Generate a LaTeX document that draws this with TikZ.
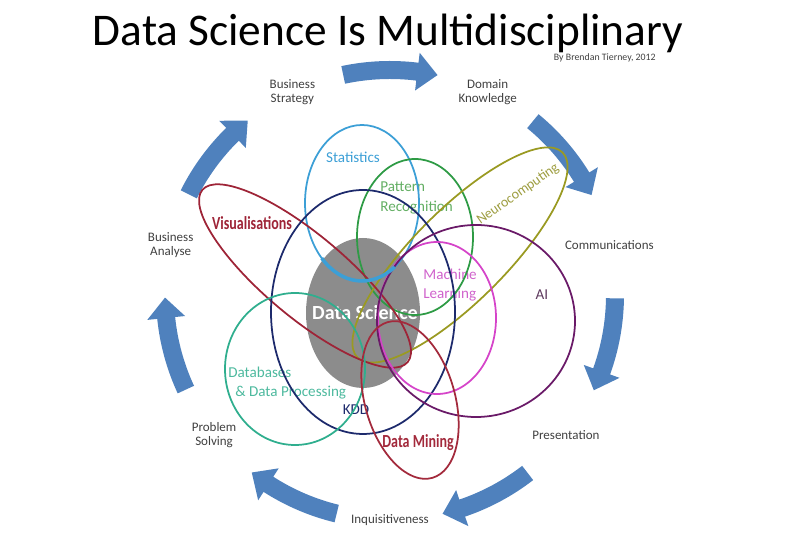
\documentclass[tikz,border=0pt]{standalone}
\usepackage{fontspec}
\setmainfont{Carlito}
\usetikzlibrary{positioning, calc}
\usepackage{xcolor}
\definecolor{cArrow}{HTML}{4F81BD}
\definecolor{cLabel}{HTML}{404040}
\definecolor{cCore}{HTML}{8C8C8C}
\definecolor{cStat}{HTML}{3C9FD6}
\definecolor{cPattern}{HTML}{2E9B45}
\definecolor{cPatternTxt}{HTML}{62AE62}
\definecolor{cKdd}{HTML}{1D2A6C}
\definecolor{cVis}{HTML}{9E2437}
\definecolor{cDb}{HTML}{2FAE8E}
\definecolor{cDbTxt}{HTML}{4DB99E}
\definecolor{cMl}{HTML}{D544C9}
\definecolor{cMlTxt}{HTML}{D063CC}
\definecolor{cAi}{HTML}{6A1A68}
\definecolor{cAiTxt}{HTML}{5E3A5E}
\definecolor{cMining}{HTML}{A32A3C}
\definecolor{cNeuro}{HTML}{9A9A22}
\definecolor{cNeuroTxt}{HTML}{9D9D40}

\begin{document}
\begin{tikzpicture}[x=0.02cm, y=0.02cm,
    ring/.style={line width=1pt},
    field/.style={inner sep=0pt, align=left, font=\fontsize{8.6}{11.3}\selectfont},
    bigfield/.style={inner sep=0pt, font=\fontsize{10.5}{12}\selectfont\bfseries, text=cVis, xscale=0.76},
    stagetag/.style={inner sep=0pt, align=center, text=cLabel, font=\fontsize{7.4}{8.2}\selectfont}]
  \useasboundingbox (0,0) rectangle (800,533);

  % Title
  \node[inner sep=0pt, font=\fontsize{25.8}{30}\selectfont] (title) at (388,500)
    {Data Science Is Multidisciplinary};
  \node[inner sep=0pt, anchor=east, text=cLabel, font=\fontsize{5.6}{7}\selectfont]
    (credit) at (656,475) {By Brendan Tierney, 2012};

  % Outer cycle: stage labels with curved arrows between them
  \coordinate (hub) at (390,238);
  \foreach \lbl [count=\i from 0] in {{Business\\Strategy}, {Domain\\Knowledge},
      Communications, Presentation, Inquisitiveness, {Problem\\Solving}, {Business\\Analyse}} {
    \pgfmathsetmacro{\ang}{115.71 - \i*51.43}
    \pgfmathsetmacro{\aS}{\ang - 13.7}
    \pgfmathsetmacro{\aE}{\ang - 37.9}
    \pgfmathsetmacro{\aH}{\aE + 5.2}
    \node[stagetag] (stage\i) at ($(hub)+(\ang:225)$) {\lbl};
    \fill[cArrow] ($(hub)+(\aS:234)$) arc[start angle=\aS, end angle=\aH, radius=234]
      -- ($(hub)+(\aH:244)$) -- ($(hub)+(\aE:225)$) -- ($(hub)+(\aH:206)$)
      -- ($(hub)+(\aH:216)$) arc[start angle=\aH, end angle=\aS, radius=216] -- cycle;
  }

  % Core
  \fill[cCore] (363,220) ellipse[x radius=57, y radius=75];

  % Field labels
  \node[field, text=cStat] (stat) at (353,376) {Statistics};
  \node[field, text=cPatternTxt, anchor=west] (pattern) at (380,335) {Pattern\\Recognition};
  \node[field, text=cNeuroTxt, font=\fontsize{8}{9}\selectfont, rotate=35] (neuro) at (518,339) {Neurocomputing};
  \node[bigfield] (vis) at (252,310) {Visualisations};
  \node[inner sep=0pt, text=white, font=\fontsize{11.4}{13}\selectfont\bfseries] (core) at (365,220) {Data Science};
  \node[field, text=cMlTxt, anchor=west] (ml) at (423,248) {Machine\\Learning};
  \node[field, text=cAiTxt] (ai) at (542,238) {AI};
  \node[field, text=cDbTxt, anchor=west] (db) at (228,150) {Databases\\\hspace*{4pt}\& Data Processing};
  \node[field, text=cKdd] (kdd) at (356,123) {KDD};
  \node[bigfield, text=cMining] (mining) at (418,90) {Data Mining};

  % Overlapping fields
  \foreach \cx/\cy/\rx/\ry/\rot/\col in {362/330/57/78/0/cStat, 415/296/58/78/0/cPattern,
      460/278/145/46/45/cNeuro, 305/257/134/41/-40/cVis, 363/221/92/122/0/cKdd,
      295/164/70/76/0/cDb, 437/215/59/76/0/cMl, 476/212/99/96/0/cAi, 410/133/45/81/16/cMining} {
    \draw[ring, \col, rotate around={\rot:(\cx,\cy)}] (\cx,\cy) ellipse[x radius=\rx, y radius=\ry];
  }
  \draw[cStat, line width=2pt] (362,330) ++(225:57 and 78) arc[start angle=225, end angle=305, x radius=57, y radius=78];
\end{tikzpicture}
\end{document}
